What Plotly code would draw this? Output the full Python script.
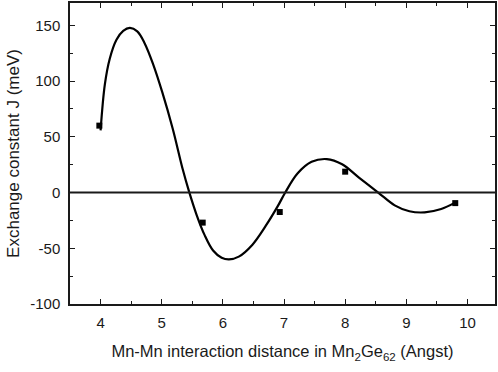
import plotly.graph_objects as go

# measured data points
pts_x = [3.98, 5.67, 6.93, 8.0, 9.8]
pts_y = [60, -27, -17.5, 18.7, -9.5]

# fitted curve
curve_x = [4.0, 4.07, 4.15, 4.26, 4.37, 4.48, 4.60, 4.72, 4.86, 5.01, 5.18, 5.34, 5.45,
           5.57, 5.70, 5.84, 5.98, 6.10, 6.26, 6.48, 6.70, 6.90, 7.02, 7.22, 7.45, 7.70,
           7.95, 8.22, 8.54, 8.81, 9.05, 9.30, 9.57, 9.79]
curve_y = [55.7, 97, 120, 137, 145, 147.6, 144.5, 134, 115, 89.8, 57.2, 21.5, 0.3,
           -20, -38, -52, -58.5, -60, -57.5, -47, -30, -12, 0, 17, 27.5, 30,
           25.3, 13.6, 0, -11.5, -16.8, -17.8, -14.8, -9.3]

# tick labels
x_ticks = [4, 5, 6, 7, 8, 9, 10]
y_ticks = [-100, -50, 0, 50, 100, 150]
y_ticktext = ["-100", "-50", "0", "50", "100", "150"]

font = "Liberation Sans, Arial, sans-serif"
ink = "#1a1a1a"

fig = go.Figure()
fig.add_trace(go.Scatter(x=curve_x, y=curve_y, mode="lines",
                         line=dict(color="black", width=2.2, shape="spline", smoothing=1.0),
                         showlegend=False, hoverinfo="skip"))
fig.add_trace(go.Scatter(x=pts_x, y=pts_y, mode="markers",
                         marker=dict(symbol="square", size=6, color="black"),
                         showlegend=False))

axis_common = dict(showline=True, linecolor=ink, linewidth=1.5, mirror="ticks",
                   ticks="inside", ticklen=5, tickwidth=1.2, tickcolor=ink,
                   showgrid=False, zeroline=False,
                   tickfont=dict(family=font, size=15, color=ink))

fig.update_layout(
    width=498, height=372,
    margin=dict(l=70, r=1, t=2, b=68),
    paper_bgcolor="white", plot_bgcolor="white",
    xaxis=dict(range=[3.5, 10.45], tickvals=x_ticks,
               minor=dict(ticks="inside", ticklen=3, tickcolor=ink, dtick=0.5, tick0=0),
               ticklabelstandoff=4,
               title=dict(text="Mn-Mn interaction distance in Mn<sub>2</sub>Ge<sub>62</sub> (Angst)",
                          font=dict(family=font, size=16.5, color=ink), standoff=16),
               **axis_common),
    yaxis=dict(range=[-100, 170], tickvals=y_ticks, ticktext=y_ticktext,
               minor=dict(ticks="inside", ticklen=3, tickcolor=ink, dtick=25, tick0=0),
               ticklabelstandoff=5,
               title=dict(text="Exchange constant J (meV)",
                          font=dict(family=font, size=17, color=ink), standoff=6),
               **axis_common),
    shapes=[dict(type="line", xref="paper", x0=0, x1=1, yref="y", y0=0, y1=0,
                 line=dict(color=ink, width=2))],
)

fig.write_html("out.html")
